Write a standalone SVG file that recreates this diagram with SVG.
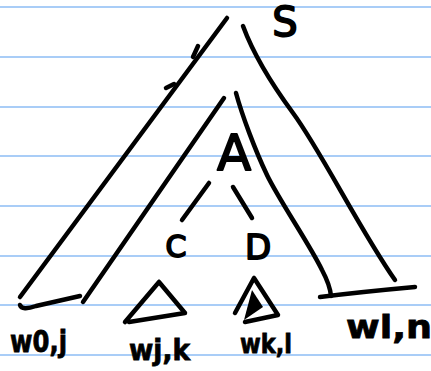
<svg xmlns="http://www.w3.org/2000/svg" width="431" height="371" viewBox="0 0 431 371">
<style>
.rule{stroke:#a9cdf7;stroke-width:2}
.ink{fill:none;stroke:#000;stroke-width:4.5;stroke-linecap:round;stroke-linejoin:round}
.let{font-family:"DejaVu Sans",sans-serif;fill:#000;stroke:#000;stroke-width:1.8;stroke-linejoin:round;text-anchor:middle}
.lab{font-family:"DejaVu Sans",sans-serif;font-weight:bold;fill:#000;stroke:#000;stroke-width:0.8}
</style>
<rect width="431" height="371" fill="#fff"/>
<g id="paper">
<line class="rule" x1="0" y1="7" x2="431" y2="7"/>
<line class="rule" x1="0" y1="57" x2="431" y2="57"/>
<line class="rule" x1="0" y1="107" x2="431" y2="107"/>
<line class="rule" x1="0" y1="156" x2="431" y2="156"/>
<line class="rule" x1="0" y1="206" x2="431" y2="206"/>
<line class="rule" x1="0" y1="256" x2="431" y2="256"/>
<line class="rule" x1="0" y1="305" x2="431" y2="305"/>
<line class="rule" x1="0" y1="355" x2="431" y2="355"/>
</g>
<g id="connectors">
<path class="ink" d="M227,18 L20,297"/>
<path class="ink" d="M198,46 L193,57"/>
<path class="ink" d="M166,88 L174,84"/>
<path class="ink" d="M20,305 Q22,311 36,306 L80,296"/>
<path class="ink" d="M224,98 L150,205 L83,302"/>
<path class="ink" d="M236,93 C242,115 255,150 267,175 S310,245 322,270 Q330,285 331,296"/>
<path class="ink" d="M243,26 C250,45 265,75 293,113 S360,230 395,280"/>
<path class="ink" d="M320,297 Q360,292 415,287"/>
<path class="ink" d="M209,183 L182,220"/>
<path class="ink" d="M233,187 L252,218"/>
</g>
<g id="node-S"><text class="let" x="285" y="36" font-size="40">S</text></g>
<g id="node-A"><text class="let" x="234" y="170" font-size="50">A</text></g>
<g id="node-C"><text class="let" x="176" y="257" font-size="30">C</text></g>
<g id="node-D"><text class="let" x="258" y="259" font-size="34">D</text></g>
<g id="tri-jk"><path class="ink" d="M159,282 L125,322 M129,322 L185,313 L159,282"/></g>
<g id="tri-kl"><path class="ink" d="M254,278 L235,313 M245,322 L278,315 L254,278"/><path d="M252,290 L244,320 L263,307 Z" fill="#000"/></g>
<g id="label-0j"><text class="lab" x="10" y="352" font-size="30" textLength="57" lengthAdjust="spacingAndGlyphs">w0,j</text></g>
<g id="label-jk"><text class="lab" x="129" y="360" font-size="28" textLength="61" lengthAdjust="spacingAndGlyphs">wj,k</text></g>
<g id="label-kl"><text class="lab" x="240" y="353" font-size="26" textLength="52" lengthAdjust="spacingAndGlyphs">wk,l</text></g>
<g id="label-ln"><text class="lab" x="346" y="338" font-size="32" textLength="86" lengthAdjust="spacingAndGlyphs">wl,n</text></g>
</svg>
